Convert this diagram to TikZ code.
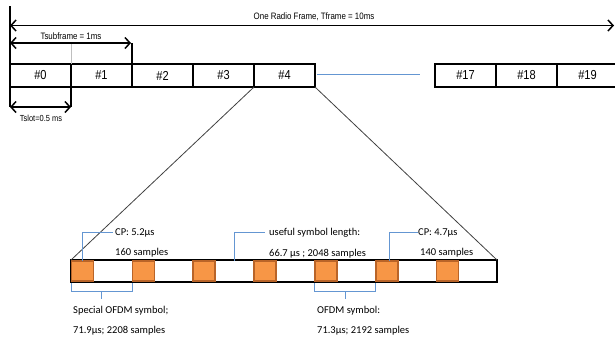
\documentclass[tikz,border=0pt]{standalone}
\usepackage{fontspec}
\usetikzlibrary{arrows.meta,positioning,calc}
\newfontfamily\narrowsf[FakeStretch=0.85]{Liberation Sans}
\newfontfamily\calib{Carlito}
\definecolor{cporange}{RGB}{247,150,70}
\definecolor{cpedge}{RGB}{185,100,40}
\definecolor{callblue}{RGB}{100,150,210}

\begin{document}
\begin{tikzpicture}[
  x=1pt, y=-1pt,
  >={Straight Barb[length=5pt,width=11pt,line width=1.5pt]},
  slot/.style={rectangle, draw=black, line width=2.3pt, outer sep=0pt, inner sep=0pt,
               minimum width=61pt, minimum height=23pt, font=\narrowsf\fontsize{13}{13}\selectfont},
  dimtxt/.style={inner sep=0pt, font=\narrowsf\fontsize{9.3}{10}\selectfont},
  dimline/.style={line width=1.5pt},
  dimarr/.style={<->, line width=1.5pt},
  symbar/.style={rectangle, draw=black, line width=1.9pt, outer sep=0pt, inner sep=0pt,
                 minimum width=426pt, minimum height=22pt},
  cpbox/.style={rectangle, draw=cpedge, fill=cporange, line width=1.6pt, outer sep=0pt,
                inner sep=0pt, minimum width=22pt, minimum height=20.5pt},
  callout/.style={draw=callblue, line width=1pt},
  note/.style={inner sep=0pt, align=left, anchor=west, font=\calib\fontsize{10.5}{20.5}\selectfont},
  zoomline/.style={draw=black!75, line width=0.8pt},
]
\useasboundingbox (0,0) rectangle (615,341);

% radio frame
\node[slot, anchor=north west] (s0) at (10,64) {\#0};
\node[slot, right=0pt of s0] (s1) {\#1};
\node[slot, right=0pt of s1] (s2) {\#2};
\node[slot, right=0pt of s2] (s3) {\#3};
\node[slot, right=0pt of s3] (s4) {\#4};
\node[slot, anchor=north west] (s17) at (435,64) {\#17};
\node[slot, right=0pt of s17] (s18) {\#18};
\node[slot, right=0pt of s18] (s19) {\#19};

\draw[callout] ([xshift=2pt,yshift=1pt]s4.east) -- ([xshift=-15pt,yshift=1pt]s17.west);

% dimension arrows
\coordinate (ftop) at (10,6);
\coordinate (fend) at (614,25.5);
\draw[dimline] (ftop) -- (s0.north west);
\draw[dimarr] (ftop |- fend) -- (fend);
\node[dimtxt] (frametxt) at (314,17) {One Radio Frame, Tframe = 10ms};

\coordinate (sub) at (10,43);
\draw[dimline] (s2.north west) -- (s2.north west |- sub);
\draw[black!25, line width=0.5pt] (s1.north west) -- (s1.north west |- sub);
\draw[dimarr] (sub) -- ([xshift=-1pt]s2.north west |- sub);
\node[dimtxt] (subtxt) at (71,36) {Tsubframe = 1ms};

\coordinate (slt) at (10,107);
\draw[dimline] (s0.south west) -- (slt);
\draw[dimline] (s0.south east) -- (s0.south east |- slt);
\draw[dimarr] (slt) -- (s0.south east |- slt);
\node[dimtxt, font=\narrowsf\fontsize{8.8}{10}\selectfont] (slottxt) at (41,118) {Tslot=0.5 ms};

% symbols of subframe #4
\node[symbar, anchor=north west] (bar) at (71,260) {};
\foreach \i in {0,...,6}
  \node[cpbox, anchor=north west] (cp\i) at ({71.5+60.86*\i},260.7) {};

\draw[zoomline] (s3.south east) -- (bar.north west);
\draw[zoomline] (s4.south east) -- (bar.north east);

% callouts
\node[note] (cpa) at (115,243) {CP: 5.2µs\\160 samples};
\node[note] (useful) at (269,243) {useful symbol length:\\66.7 µs ; 2048 samples};
\node[note] (cpb) at (418,243) {CP: 4.7µs\\\hspace*{2pt}140 samples};
\node[note] (spec) at (73,320.5) {Special OFDM symbol;\\71.9µs; 2208 samples};
\node[note] (ofdm) at (317,320.5) {OFDM symbol:\\71.3µs; 2192 samples};

\draw[callout] (cp0.north) |- ([xshift=-2pt,yshift=-4pt]cpa.north west);
\draw[callout] ($(cp2.north east)!0.5!(cp3.north west)$) |- ([xshift=-4pt,yshift=-4pt]useful.north west);
\draw[callout] ([xshift=3pt]cp5.north) |- ([yshift=-4pt]cpb.north west);

\draw[callout] ([yshift=-2pt]cp0.south west) -- ++(0,8) -| ([yshift=-2pt]cp1.south west);
\draw[callout] ($(cp0.south west)!0.5!(cp1.south west)$) ++(0,10) -- ++(0,8);
\draw[callout] ([yshift=-2pt]cp4.south west) -- ++(0,8) -| ([yshift=-2pt]cp5.south west);
\draw[callout] ($(cp4.south west)!0.5!(cp5.south west)$) ++(0,10) -- ++(0,8);

\end{tikzpicture}
\end{document}
